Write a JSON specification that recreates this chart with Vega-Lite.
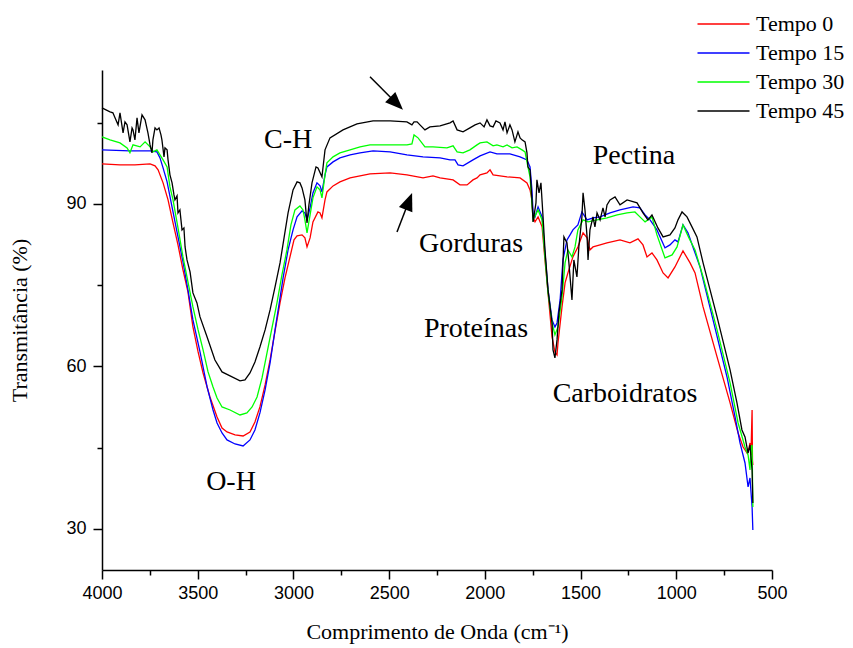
{
"$schema":"https://vega.github.io/schema/vega-lite/v6.json",
"width":670,"height":500,
"autosize":{"type":"none"},
"padding":{"left":102,"top":70,"right":81,"bottom":78},
"background":"white",
"config":{"view":{"stroke":null},"axis":{"grid":false,"domainColor":"black","domainWidth":1.5,"tickColor":"black","tickWidth":1.5,"labelColor":"black","labelFont":"Liberation Sans","labelFontSize":18,"titleFont":"Liberation Serif","titleFontSize":22,"titleFontWeight":"normal","titleColor":"black","labelFlush":false,"labelOverlap":false}},
"layer":[
{"data":{"values":[
{"s":"Tempo 0","x":4000,"y":97.38},{"s":"Tempo 0","x":3906,"y":97.2},{"s":"Tempo 0","x":3828,"y":97.19},{"s":"Tempo 0","x":3749,"y":97.38},{"s":"Tempo 0","x":3723,"y":97.01},{"s":"Tempo 0","x":3707,"y":96.27},{"s":"Tempo 0","x":3681,"y":93.87},{"s":"Tempo 0","x":3655,"y":90.73},{"s":"Tempo 0","x":3629,"y":86.49},{"s":"Tempo 0","x":3603,"y":82.42},{"s":"Tempo 0","x":3577,"y":77.81},{"s":"Tempo 0","x":3551,"y":73.75},{"s":"Tempo 0","x":3525,"y":67.29},{"s":"Tempo 0","x":3498,"y":62.67},{"s":"Tempo 0","x":3472,"y":58.79},{"s":"Tempo 0","x":3436,"y":54.36},{"s":"Tempo 0","x":3399,"y":50.67},{"s":"Tempo 0","x":3373,"y":48.64},{"s":"Tempo 0","x":3347,"y":47.9},{"s":"Tempo 0","x":3305,"y":47.35},{"s":"Tempo 0","x":3263,"y":47.16},{"s":"Tempo 0","x":3227,"y":47.9},{"s":"Tempo 0","x":3201,"y":49.75},{"s":"Tempo 0","x":3175,"y":52.52},{"s":"Tempo 0","x":3148,"y":56.58},{"s":"Tempo 0","x":3122,"y":61.19},{"s":"Tempo 0","x":3096,"y":66.55},{"s":"Tempo 0","x":3070,"y":71.72},{"s":"Tempo 0","x":3044,"y":76.33},{"s":"Tempo 0","x":3018,"y":80.21},{"s":"Tempo 0","x":2997,"y":83.35},{"s":"Tempo 0","x":2981,"y":84.08},{"s":"Tempo 0","x":2955,"y":84.27},{"s":"Tempo 0","x":2940,"y":83.72},{"s":"Tempo 0","x":2929,"y":82.05},{"s":"Tempo 0","x":2913,"y":83.72},{"s":"Tempo 0","x":2898,"y":86.67},{"s":"Tempo 0","x":2872,"y":88.51},{"s":"Tempo 0","x":2861,"y":88.33},{"s":"Tempo 0","x":2851,"y":87.41},{"s":"Tempo 0","x":2835,"y":90.73},{"s":"Tempo 0","x":2825,"y":92.2},{"s":"Tempo 0","x":2793,"y":93.31},{"s":"Tempo 0","x":2757,"y":94.05},{"s":"Tempo 0","x":2704,"y":94.79},{"s":"Tempo 0","x":2600,"y":95.53},{"s":"Tempo 0","x":2495,"y":95.71},{"s":"Tempo 0","x":2407,"y":95.35},{"s":"Tempo 0","x":2323,"y":94.79},{"s":"Tempo 0","x":2271,"y":95.16},{"s":"Tempo 0","x":2234,"y":94.79},{"s":"Tempo 0","x":2166,"y":94.42},{"s":"Tempo 0","x":2130,"y":93.5},{"s":"Tempo 0","x":2093,"y":93.5},{"s":"Tempo 0","x":2062,"y":94.42},{"s":"Tempo 0","x":2041,"y":94.79},{"s":"Tempo 0","x":2025,"y":95.35},{"s":"Tempo 0","x":1989,"y":95.71},{"s":"Tempo 0","x":1973,"y":96.27},{"s":"Tempo 0","x":1957,"y":95.35},{"s":"Tempo 0","x":1921,"y":95.16},{"s":"Tempo 0","x":1884,"y":94.98},{"s":"Tempo 0","x":1816,"y":94.79},{"s":"Tempo 0","x":1780,"y":93.87},{"s":"Tempo 0","x":1764,"y":92.57},{"s":"Tempo 0","x":1754,"y":90.73},{"s":"Tempo 0","x":1748,"y":87.59},{"s":"Tempo 0","x":1738,"y":86.67},{"s":"Tempo 0","x":1722,"y":87.59},{"s":"Tempo 0","x":1701,"y":85.75},{"s":"Tempo 0","x":1686,"y":79.65},{"s":"Tempo 0","x":1670,"y":73.56},{"s":"Tempo 0","x":1649,"y":65.44},{"s":"Tempo 0","x":1634,"y":62.67},{"s":"Tempo 0","x":1623,"y":62.12},{"s":"Tempo 0","x":1618,"y":64.33},{"s":"Tempo 0","x":1597,"y":70.98},{"s":"Tempo 0","x":1581,"y":75.41},{"s":"Tempo 0","x":1566,"y":77.25},{"s":"Tempo 0","x":1540,"y":80.21},{"s":"Tempo 0","x":1514,"y":82.05},{"s":"Tempo 0","x":1487,"y":84.64},{"s":"Tempo 0","x":1466,"y":83.72},{"s":"Tempo 0","x":1451,"y":81.5},{"s":"Tempo 0","x":1435,"y":82.05},{"s":"Tempo 0","x":1398,"y":82.42},{"s":"Tempo 0","x":1362,"y":82.79},{"s":"Tempo 0","x":1294,"y":83.35},{"s":"Tempo 0","x":1242,"y":82.79},{"s":"Tempo 0","x":1200,"y":83.53},{"s":"Tempo 0","x":1174,"y":82.42},{"s":"Tempo 0","x":1153,"y":80.21},{"s":"Tempo 0","x":1127,"y":80.95},{"s":"Tempo 0","x":1101,"y":79.65},{"s":"Tempo 0","x":1069,"y":77.25},{"s":"Tempo 0","x":1043,"y":76.33},{"s":"Tempo 0","x":1007,"y":78.36},{"s":"Tempo 0","x":965,"y":81.32},{"s":"Tempo 0","x":928,"y":79.1},{"s":"Tempo 0","x":902,"y":77.25},{"s":"Tempo 0","x":860,"y":70.98},{"s":"Tempo 0","x":787,"y":61.75},{"s":"Tempo 0","x":719,"y":53.26},{"s":"Tempo 0","x":677,"y":47.72},{"s":"Tempo 0","x":651,"y":45.13},{"s":"Tempo 0","x":630,"y":44.02},{"s":"Tempo 0","x":620,"y":44.95},{"s":"Tempo 0","x":615,"y":45.87},{"s":"Tempo 0","x":610,"y":43.65},{"s":"Tempo 0","x":604,"y":51.96},{"s":"Tempo 0","x":602,"y":42.73},{"s":"Tempo 0","x":600,"y":41.81},
{"s":"Tempo 15","x":4000,"y":99.96},{"s":"Tempo 15","x":3854,"y":99.78},{"s":"Tempo 15","x":3749,"y":99.78},{"s":"Tempo 15","x":3713,"y":99.59},{"s":"Tempo 15","x":3697,"y":98.48},{"s":"Tempo 15","x":3681,"y":96.64},{"s":"Tempo 15","x":3660,"y":94.05},{"s":"Tempo 15","x":3629,"y":88.51},{"s":"Tempo 15","x":3603,"y":83.9},{"s":"Tempo 15","x":3577,"y":79.28},{"s":"Tempo 15","x":3551,"y":74.12},{"s":"Tempo 15","x":3525,"y":68.58},{"s":"Tempo 15","x":3488,"y":62.67},{"s":"Tempo 15","x":3451,"y":56.21},{"s":"Tempo 15","x":3420,"y":51.96},{"s":"Tempo 15","x":3399,"y":49.56},{"s":"Tempo 15","x":3373,"y":47.72},{"s":"Tempo 15","x":3347,"y":46.43},{"s":"Tempo 15","x":3305,"y":45.69},{"s":"Tempo 15","x":3263,"y":45.32},{"s":"Tempo 15","x":3227,"y":46.43},{"s":"Tempo 15","x":3201,"y":48.27},{"s":"Tempo 15","x":3175,"y":51.41},{"s":"Tempo 15","x":3148,"y":55.66},{"s":"Tempo 15","x":3122,"y":60.64},{"s":"Tempo 15","x":3096,"y":66.73},{"s":"Tempo 15","x":3070,"y":72.64},{"s":"Tempo 15","x":3054,"y":76.33},{"s":"Tempo 15","x":3028,"y":81.5},{"s":"Tempo 15","x":3002,"y":85.19},{"s":"Tempo 15","x":2981,"y":87.59},{"s":"Tempo 15","x":2955,"y":88.7},{"s":"Tempo 15","x":2940,"y":88.33},{"s":"Tempo 15","x":2929,"y":87.04},{"s":"Tempo 15","x":2913,"y":89.25},{"s":"Tempo 15","x":2898,"y":92.02},{"s":"Tempo 15","x":2877,"y":93.87},{"s":"Tempo 15","x":2861,"y":93.31},{"s":"Tempo 15","x":2851,"y":92.2},{"s":"Tempo 15","x":2835,"y":95.35},{"s":"Tempo 15","x":2825,"y":96.82},{"s":"Tempo 15","x":2793,"y":97.74},{"s":"Tempo 15","x":2757,"y":98.48},{"s":"Tempo 15","x":2704,"y":99.04},{"s":"Tempo 15","x":2652,"y":99.41},{"s":"Tempo 15","x":2584,"y":99.78},{"s":"Tempo 15","x":2495,"y":99.59},{"s":"Tempo 15","x":2407,"y":99.04},{"s":"Tempo 15","x":2323,"y":98.67},{"s":"Tempo 15","x":2234,"y":98.48},{"s":"Tempo 15","x":2182,"y":98.11},{"s":"Tempo 15","x":2156,"y":98.11},{"s":"Tempo 15","x":2140,"y":97.19},{"s":"Tempo 15","x":2114,"y":97.01},{"s":"Tempo 15","x":2062,"y":98.11},{"s":"Tempo 15","x":2025,"y":98.85},{"s":"Tempo 15","x":1973,"y":99.59},{"s":"Tempo 15","x":1937,"y":99.22},{"s":"Tempo 15","x":1869,"y":99.22},{"s":"Tempo 15","x":1816,"y":98.67},{"s":"Tempo 15","x":1780,"y":98.11},{"s":"Tempo 15","x":1764,"y":96.82},{"s":"Tempo 15","x":1754,"y":92.57},{"s":"Tempo 15","x":1748,"y":88.33},{"s":"Tempo 15","x":1738,"y":87.59},{"s":"Tempo 15","x":1722,"y":89.44},{"s":"Tempo 15","x":1701,"y":87.59},{"s":"Tempo 15","x":1686,"y":80.95},{"s":"Tempo 15","x":1670,"y":74.12},{"s":"Tempo 15","x":1649,"y":68.58},{"s":"Tempo 15","x":1634,"y":67.29},{"s":"Tempo 15","x":1623,"y":68.02},{"s":"Tempo 15","x":1607,"y":72.27},{"s":"Tempo 15","x":1592,"y":79.65},{"s":"Tempo 15","x":1571,"y":83.35},{"s":"Tempo 15","x":1555,"y":84.27},{"s":"Tempo 15","x":1540,"y":85.19},{"s":"Tempo 15","x":1514,"y":86.12},{"s":"Tempo 15","x":1493,"y":88.51},{"s":"Tempo 15","x":1466,"y":87.04},{"s":"Tempo 15","x":1435,"y":87.41},{"s":"Tempo 15","x":1398,"y":87.59},{"s":"Tempo 15","x":1346,"y":88.33},{"s":"Tempo 15","x":1294,"y":88.88},{"s":"Tempo 15","x":1226,"y":89.44},{"s":"Tempo 15","x":1190,"y":89.25},{"s":"Tempo 15","x":1163,"y":87.96},{"s":"Tempo 15","x":1137,"y":87.04},{"s":"Tempo 15","x":1101,"y":85.19},{"s":"Tempo 15","x":1059,"y":81.87},{"s":"Tempo 15","x":1033,"y":82.42},{"s":"Tempo 15","x":1007,"y":83.35},{"s":"Tempo 15","x":991,"y":82.98},{"s":"Tempo 15","x":965,"y":86.12},{"s":"Tempo 15","x":939,"y":84.64},{"s":"Tempo 15","x":913,"y":82.05},{"s":"Tempo 15","x":876,"y":78.36},{"s":"Tempo 15","x":808,"y":68.58},{"s":"Tempo 15","x":735,"y":58.05},{"s":"Tempo 15","x":693,"y":50.67},{"s":"Tempo 15","x":667,"y":45.87},{"s":"Tempo 15","x":641,"y":42.18},{"s":"Tempo 15","x":625,"y":37.75},{"s":"Tempo 15","x":615,"y":39.41},{"s":"Tempo 15","x":604,"y":34.06},{"s":"Tempo 15","x":600,"y":29.81},
{"s":"Tempo 30","x":4000,"y":102.36},{"s":"Tempo 30","x":3958,"y":101.81},{"s":"Tempo 30","x":3906,"y":101.25},{"s":"Tempo 30","x":3869,"y":100.33},{"s":"Tempo 30","x":3854,"y":99.41},{"s":"Tempo 30","x":3838,"y":100.88},{"s":"Tempo 30","x":3801,"y":100.51},{"s":"Tempo 30","x":3775,"y":101.44},{"s":"Tempo 30","x":3749,"y":100.51},{"s":"Tempo 30","x":3734,"y":99.59},{"s":"Tempo 30","x":3713,"y":99.96},{"s":"Tempo 30","x":3697,"y":99.04},{"s":"Tempo 30","x":3681,"y":98.11},{"s":"Tempo 30","x":3660,"y":96.82},{"s":"Tempo 30","x":3645,"y":93.13},{"s":"Tempo 30","x":3629,"y":90.73},{"s":"Tempo 30","x":3603,"y":85.56},{"s":"Tempo 30","x":3577,"y":80.21},{"s":"Tempo 30","x":3551,"y":75.59},{"s":"Tempo 30","x":3525,"y":70.98},{"s":"Tempo 30","x":3498,"y":66.73},{"s":"Tempo 30","x":3472,"y":63.04},{"s":"Tempo 30","x":3446,"y":58.98},{"s":"Tempo 30","x":3420,"y":56.21},{"s":"Tempo 30","x":3399,"y":54.18},{"s":"Tempo 30","x":3373,"y":52.52},{"s":"Tempo 30","x":3331,"y":51.96},{"s":"Tempo 30","x":3279,"y":51.04},{"s":"Tempo 30","x":3243,"y":51.41},{"s":"Tempo 30","x":3216,"y":52.52},{"s":"Tempo 30","x":3190,"y":54.36},{"s":"Tempo 30","x":3164,"y":57.87},{"s":"Tempo 30","x":3138,"y":62.49},{"s":"Tempo 30","x":3112,"y":67.1},{"s":"Tempo 30","x":3086,"y":71.72},{"s":"Tempo 30","x":3060,"y":76.88},{"s":"Tempo 30","x":3034,"y":81.5},{"s":"Tempo 30","x":3013,"y":86.12},{"s":"Tempo 30","x":2992,"y":88.88},{"s":"Tempo 30","x":2966,"y":89.62},{"s":"Tempo 30","x":2950,"y":88.88},{"s":"Tempo 30","x":2940,"y":87.04},{"s":"Tempo 30","x":2929,"y":84.64},{"s":"Tempo 30","x":2913,"y":87.96},{"s":"Tempo 30","x":2898,"y":91.1},{"s":"Tempo 30","x":2877,"y":93.13},{"s":"Tempo 30","x":2861,"y":92.57},{"s":"Tempo 30","x":2851,"y":91.1},{"s":"Tempo 30","x":2835,"y":95.35},{"s":"Tempo 30","x":2825,"y":97.56},{"s":"Tempo 30","x":2793,"y":98.67},{"s":"Tempo 30","x":2757,"y":99.41},{"s":"Tempo 30","x":2704,"y":99.96},{"s":"Tempo 30","x":2652,"y":100.51},{"s":"Tempo 30","x":2600,"y":100.88},{"s":"Tempo 30","x":2495,"y":100.88},{"s":"Tempo 30","x":2407,"y":100.88},{"s":"Tempo 30","x":2381,"y":101.07},{"s":"Tempo 30","x":2370,"y":102.73},{"s":"Tempo 30","x":2349,"y":102.18},{"s":"Tempo 30","x":2313,"y":100.51},{"s":"Tempo 30","x":2271,"y":100.51},{"s":"Tempo 30","x":2198,"y":100.33},{"s":"Tempo 30","x":2166,"y":100.7},{"s":"Tempo 30","x":2145,"y":99.59},{"s":"Tempo 30","x":2114,"y":99.41},{"s":"Tempo 30","x":2078,"y":99.96},{"s":"Tempo 30","x":2041,"y":100.88},{"s":"Tempo 30","x":2025,"y":101.25},{"s":"Tempo 30","x":1989,"y":101.44},{"s":"Tempo 30","x":1957,"y":100.7},{"s":"Tempo 30","x":1937,"y":100.88},{"s":"Tempo 30","x":1905,"y":100.51},{"s":"Tempo 30","x":1884,"y":100.88},{"s":"Tempo 30","x":1858,"y":100.33},{"s":"Tempo 30","x":1832,"y":100.51},{"s":"Tempo 30","x":1806,"y":99.96},{"s":"Tempo 30","x":1790,"y":99.59},{"s":"Tempo 30","x":1775,"y":96.82},{"s":"Tempo 30","x":1764,"y":94.98},{"s":"Tempo 30","x":1748,"y":87.04},{"s":"Tempo 30","x":1722,"y":88.88},{"s":"Tempo 30","x":1701,"y":87.04},{"s":"Tempo 30","x":1686,"y":80.21},{"s":"Tempo 30","x":1670,"y":73.56},{"s":"Tempo 30","x":1649,"y":68.02},{"s":"Tempo 30","x":1634,"y":65.81},{"s":"Tempo 30","x":1618,"y":67.29},{"s":"Tempo 30","x":1597,"y":72.82},{"s":"Tempo 30","x":1581,"y":79.1},{"s":"Tempo 30","x":1566,"y":81.5},{"s":"Tempo 30","x":1545,"y":80.21},{"s":"Tempo 30","x":1529,"y":82.05},{"s":"Tempo 30","x":1514,"y":85.19},{"s":"Tempo 30","x":1487,"y":87.04},{"s":"Tempo 30","x":1461,"y":86.67},{"s":"Tempo 30","x":1414,"y":87.04},{"s":"Tempo 30","x":1362,"y":87.41},{"s":"Tempo 30","x":1309,"y":87.96},{"s":"Tempo 30","x":1257,"y":88.33},{"s":"Tempo 30","x":1216,"y":88.51},{"s":"Tempo 30","x":1190,"y":87.59},{"s":"Tempo 30","x":1163,"y":86.67},{"s":"Tempo 30","x":1127,"y":87.59},{"s":"Tempo 30","x":1101,"y":84.27},{"s":"Tempo 30","x":1059,"y":80.02},{"s":"Tempo 30","x":1022,"y":80.58},{"s":"Tempo 30","x":996,"y":82.05},{"s":"Tempo 30","x":965,"y":86.12},{"s":"Tempo 30","x":934,"y":83.72},{"s":"Tempo 30","x":902,"y":81.5},{"s":"Tempo 30","x":860,"y":76.51},{"s":"Tempo 30","x":787,"y":66.73},{"s":"Tempo 30","x":719,"y":56.95},{"s":"Tempo 30","x":677,"y":49.56},{"s":"Tempo 30","x":641,"y":45.13},{"s":"Tempo 30","x":625,"y":43.65},{"s":"Tempo 30","x":615,"y":40.89},{"s":"Tempo 30","x":610,"y":44.95},{"s":"Tempo 30","x":604,"y":45.5},{"s":"Tempo 30","x":600,"y":34.06},
{"s":"Tempo 45","x":4000,"y":107.7},{"s":"Tempo 45","x":3979,"y":107.34},{"s":"Tempo 45","x":3958,"y":106.97},{"s":"Tempo 45","x":3943,"y":106.79},{"s":"Tempo 45","x":3932,"y":105.87},{"s":"Tempo 45","x":3916,"y":104.58},{"s":"Tempo 45","x":3906,"y":106.79},{"s":"Tempo 45","x":3890,"y":103.1},{"s":"Tempo 45","x":3880,"y":105.13},{"s":"Tempo 45","x":3869,"y":104.58},{"s":"Tempo 45","x":3854,"y":101.44},{"s":"Tempo 45","x":3843,"y":104.02},{"s":"Tempo 45","x":3838,"y":103.65},{"s":"Tempo 45","x":3828,"y":101.81},{"s":"Tempo 45","x":3817,"y":105.87},{"s":"Tempo 45","x":3807,"y":103.1},{"s":"Tempo 45","x":3791,"y":106.42},{"s":"Tempo 45","x":3775,"y":105.5},{"s":"Tempo 45","x":3760,"y":103.1},{"s":"Tempo 45","x":3749,"y":100.88},{"s":"Tempo 45","x":3739,"y":99.41},{"s":"Tempo 45","x":3734,"y":101.81},{"s":"Tempo 45","x":3723,"y":104.02},{"s":"Tempo 45","x":3713,"y":103.65},{"s":"Tempo 45","x":3702,"y":104.02},{"s":"Tempo 45","x":3692,"y":102.73},{"s":"Tempo 45","x":3687,"y":101.81},{"s":"Tempo 45","x":3676,"y":98.67},{"s":"Tempo 45","x":3671,"y":100.33},{"s":"Tempo 45","x":3660,"y":99.96},{"s":"Tempo 45","x":3655,"y":98.11},{"s":"Tempo 45","x":3645,"y":95.35},{"s":"Tempo 45","x":3634,"y":93.87},{"s":"Tempo 45","x":3624,"y":91.65},{"s":"Tempo 45","x":3619,"y":90.73},{"s":"Tempo 45","x":3608,"y":91.47},{"s":"Tempo 45","x":3603,"y":88.33},{"s":"Tempo 45","x":3593,"y":88.88},{"s":"Tempo 45","x":3582,"y":85.19},{"s":"Tempo 45","x":3572,"y":85.56},{"s":"Tempo 45","x":3566,"y":82.05},{"s":"Tempo 45","x":3556,"y":79.65},{"s":"Tempo 45","x":3540,"y":77.44},{"s":"Tempo 45","x":3525,"y":73.56},{"s":"Tempo 45","x":3504,"y":71.72},{"s":"Tempo 45","x":3488,"y":69.13},{"s":"Tempo 45","x":3451,"y":65.44},{"s":"Tempo 45","x":3410,"y":61.19},{"s":"Tempo 45","x":3373,"y":58.98},{"s":"Tempo 45","x":3331,"y":58.24},{"s":"Tempo 45","x":3279,"y":57.32},{"s":"Tempo 45","x":3253,"y":57.5},{"s":"Tempo 45","x":3227,"y":58.79},{"s":"Tempo 45","x":3201,"y":60.82},{"s":"Tempo 45","x":3175,"y":63.59},{"s":"Tempo 45","x":3148,"y":66.73},{"s":"Tempo 45","x":3122,"y":70.42},{"s":"Tempo 45","x":3096,"y":74.67},{"s":"Tempo 45","x":3070,"y":79.1},{"s":"Tempo 45","x":3049,"y":83.72},{"s":"Tempo 45","x":3028,"y":88.33},{"s":"Tempo 45","x":3002,"y":92.57},{"s":"Tempo 45","x":2981,"y":94.05},{"s":"Tempo 45","x":2966,"y":93.87},{"s":"Tempo 45","x":2955,"y":92.94},{"s":"Tempo 45","x":2940,"y":90.73},{"s":"Tempo 45","x":2929,"y":86.49},{"s":"Tempo 45","x":2919,"y":89.81},{"s":"Tempo 45","x":2903,"y":93.87},{"s":"Tempo 45","x":2882,"y":96.82},{"s":"Tempo 45","x":2872,"y":96.64},{"s":"Tempo 45","x":2851,"y":94.98},{"s":"Tempo 45","x":2835,"y":99.96},{"s":"Tempo 45","x":2809,"y":102.18},{"s":"Tempo 45","x":2741,"y":103.65},{"s":"Tempo 45","x":2668,"y":104.76},{"s":"Tempo 45","x":2584,"y":105.31},{"s":"Tempo 45","x":2495,"y":105.31},{"s":"Tempo 45","x":2407,"y":105.13},{"s":"Tempo 45","x":2381,"y":104.58},{"s":"Tempo 45","x":2370,"y":105.13},{"s":"Tempo 45","x":2354,"y":105.13},{"s":"Tempo 45","x":2339,"y":104.58},{"s":"Tempo 45","x":2313,"y":103.65},{"s":"Tempo 45","x":2287,"y":104.21},{"s":"Tempo 45","x":2234,"y":104.39},{"s":"Tempo 45","x":2182,"y":104.94},{"s":"Tempo 45","x":2166,"y":105.31},{"s":"Tempo 45","x":2145,"y":103.65},{"s":"Tempo 45","x":2114,"y":103.28},{"s":"Tempo 45","x":2078,"y":104.02},{"s":"Tempo 45","x":2051,"y":104.58},{"s":"Tempo 45","x":2025,"y":104.94},{"s":"Tempo 45","x":2004,"y":104.21},{"s":"Tempo 45","x":1989,"y":105.5},{"s":"Tempo 45","x":1973,"y":104.39},{"s":"Tempo 45","x":1957,"y":104.21},{"s":"Tempo 45","x":1942,"y":105.31},{"s":"Tempo 45","x":1921,"y":104.94},{"s":"Tempo 45","x":1905,"y":103.65},{"s":"Tempo 45","x":1895,"y":105.13},{"s":"Tempo 45","x":1884,"y":103.1},{"s":"Tempo 45","x":1869,"y":104.58},{"s":"Tempo 45","x":1858,"y":103.65},{"s":"Tempo 45","x":1843,"y":101.44},{"s":"Tempo 45","x":1827,"y":103.28},{"s":"Tempo 45","x":1816,"y":102.18},{"s":"Tempo 45","x":1806,"y":101.81},{"s":"Tempo 45","x":1790,"y":101.44},{"s":"Tempo 45","x":1780,"y":99.41},{"s":"Tempo 45","x":1775,"y":96.82},{"s":"Tempo 45","x":1764,"y":96.27},{"s":"Tempo 45","x":1754,"y":90.73},{"s":"Tempo 45","x":1748,"y":86.67},{"s":"Tempo 45","x":1733,"y":90.18},{"s":"Tempo 45","x":1728,"y":94.42},{"s":"Tempo 45","x":1717,"y":92.02},{"s":"Tempo 45","x":1707,"y":93.87},{"s":"Tempo 45","x":1696,"y":87.59},{"s":"Tempo 45","x":1686,"y":81.5},{"s":"Tempo 45","x":1670,"y":74.12},{"s":"Tempo 45","x":1649,"y":68.02},{"s":"Tempo 45","x":1644,"y":63.04},{"s":"Tempo 45","x":1634,"y":61.56},{"s":"Tempo 45","x":1623,"y":64.89},{"s":"Tempo 45","x":1613,"y":69.87},{"s":"Tempo 45","x":1597,"y":74.12},{"s":"Tempo 45","x":1587,"y":83.9},{"s":"Tempo 45","x":1571,"y":82.79},{"s":"Tempo 45","x":1561,"y":79.1},{"s":"Tempo 45","x":1545,"y":72.27},{"s":"Tempo 45","x":1535,"y":79.65},{"s":"Tempo 45","x":1519,"y":76.51},{"s":"Tempo 45","x":1509,"y":82.05},{"s":"Tempo 45","x":1493,"y":87.59},{"s":"Tempo 45","x":1487,"y":92.02},{"s":"Tempo 45","x":1477,"y":88.88},{"s":"Tempo 45","x":1466,"y":83.9},{"s":"Tempo 45","x":1461,"y":79.65},{"s":"Tempo 45","x":1451,"y":85.19},{"s":"Tempo 45","x":1435,"y":87.59},{"s":"Tempo 45","x":1425,"y":85.75},{"s":"Tempo 45","x":1414,"y":88.33},{"s":"Tempo 45","x":1398,"y":87.04},{"s":"Tempo 45","x":1383,"y":89.25},{"s":"Tempo 45","x":1372,"y":87.59},{"s":"Tempo 45","x":1362,"y":89.81},{"s":"Tempo 45","x":1346,"y":90.73},{"s":"Tempo 45","x":1320,"y":91.28},{"s":"Tempo 45","x":1294,"y":89.81},{"s":"Tempo 45","x":1257,"y":90.73},{"s":"Tempo 45","x":1205,"y":90.18},{"s":"Tempo 45","x":1174,"y":88.33},{"s":"Tempo 45","x":1148,"y":87.04},{"s":"Tempo 45","x":1127,"y":87.96},{"s":"Tempo 45","x":1096,"y":85.56},{"s":"Tempo 45","x":1069,"y":83.9},{"s":"Tempo 45","x":1033,"y":84.27},{"s":"Tempo 45","x":1007,"y":85.56},{"s":"Tempo 45","x":991,"y":87.04},{"s":"Tempo 45","x":970,"y":88.51},{"s":"Tempo 45","x":944,"y":87.59},{"s":"Tempo 45","x":918,"y":85.75},{"s":"Tempo 45","x":892,"y":83.9},{"s":"Tempo 45","x":860,"y":79.1},{"s":"Tempo 45","x":787,"y":69.13},{"s":"Tempo 45","x":719,"y":59.35},{"s":"Tempo 45","x":683,"y":53.26},{"s":"Tempo 45","x":657,"y":48.27},{"s":"Tempo 45","x":641,"y":46.98},{"s":"Tempo 45","x":625,"y":44.02},{"s":"Tempo 45","x":615,"y":45.5},{"s":"Tempo 45","x":604,"y":40.89},{"s":"Tempo 45","x":600,"y":34.8}
]},
"mark":{"type":"line","strokeWidth":1.3},
"encoding":{
"x":{"field":"x","type":"quantitative","scale":{"domain":[500,4000],"reverse":true,"nice":false,"zero":false},"axis":{"values":[4000,3750,3500,3250,3000,2750,2500,2250,2000,1750,1500,1250,1000,750,500],"format":"d","labelExpr":"datum.value % 500 === 0 ? datum.label : ''","tickSize":{"condition":{"test":"datum.value % 500 === 0","value":9},"value":5},"labelPadding":5,"titlePadding":19,"title":"Comprimento de Onda (cm⁻¹)"}},
"y":{"field":"y","type":"quantitative","scale":{"domain":[22.43,114.7],"nice":false,"zero":false},"axis":{"values":[30,45,60,75,90,105],"format":"d","labelExpr":"datum.value % 30 === 0 ? datum.label : ''","tickSize":{"condition":{"test":"datum.value % 30 === 0","value":9},"value":5},"labelPadding":7,"titlePadding":34,"title":"Transmitância (%)"}},
"color":{"field":"s","type":"nominal","scale":{"domain":["Tempo 0","Tempo 15","Tempo 30","Tempo 45"],"range":["#ff0000","#0000ff","#00ff00","#000000"]},"legend":{"orient":"none","legendX":610.5,"legendY":-57,"title":null,"symbolType":"M-4,0H4","symbolSize":169,"symbolStrokeWidth":1.5,"labelFont":"Liberation Serif","labelFontSize":22,"labelColor":"black","labelOffset":21.5,"rowPadding":7,"padding":0}}
}},
{"data":{"values":[{"x":2600,"y":113.44,"xe":2461,"ye":108.53},{"x":2459,"y":84.82,"xe":2397,"ye":90.47}]},
"mark":{"type":"rule","color":"black","strokeWidth":1.5},
"encoding":{"x":{"field":"x","type":"quantitative","title":"Comprimento de Onda (cm⁻¹)"},"y":{"field":"y","type":"quantitative","title":"Transmitância (%)"},"x2":{"field":"xe"},"y2":{"field":"ye"}}},
{"data":{"values":[{"x":2461,"y":108.53,"a":135},{"x":2397,"y":90.47,"a":21}]},
"mark":{"type":"point","shape":"M0,-1L-0.8,1L0.8,1Z","filled":true,"color":"black","opacity":1,"size":324},
"encoding":{"x":{"field":"x","type":"quantitative","title":"Comprimento de Onda (cm⁻¹)"},"y":{"field":"y","type":"quantitative","title":"Transmitância (%)"},"angle":{"field":"a","type":"quantitative","scale":null}}},
{"data":{"values":[{"x":3028,"y":100.33,"t":"C-H"},{"x":1221,"y":97.4,"t":"Pectina"},{"x":2072,"y":81.13,"t":"Gorduras"},{"x":2046,"y":65.44,"t":"Proteínas"},{"x":1268,"y":53.5,"t":"Carboidratos"},{"x":3326,"y":37.2,"t":"O-H"}]},
"mark":{"type":"text","font":"Liberation Serif","fontSize":28,"align":"center","baseline":"alphabetic","color":"black"},
"encoding":{"x":{"field":"x","type":"quantitative","title":"Comprimento de Onda (cm⁻¹)"},"y":{"field":"y","type":"quantitative","title":"Transmitância (%)"},"text":{"field":"t","type":"nominal"}}}
]
}
